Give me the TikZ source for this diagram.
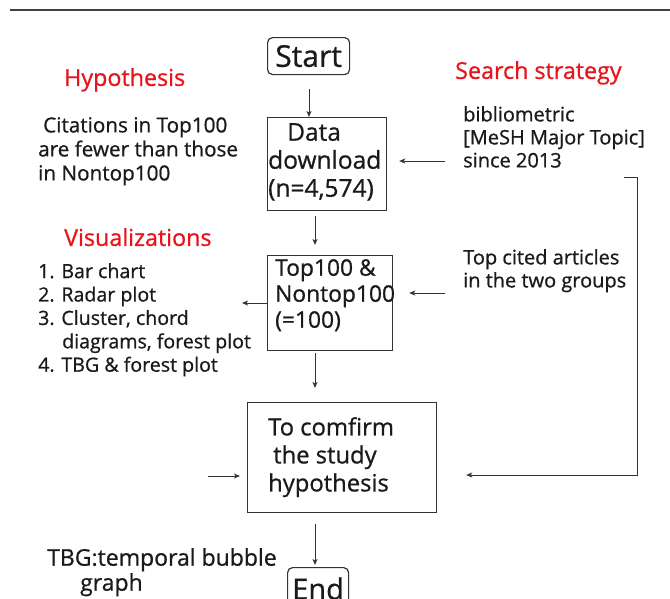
\documentclass[tikz,border=0pt]{standalone}
\usepackage{fontspec}
\setmainfont{Open Sans}[FakeBold=0.8]
\usetikzlibrary{arrows.meta}
\definecolor{lc}{HTML}{333333}
\definecolor{tc}{HTML}{1A1A1A}
\definecolor{hred}{HTML}{E8141C}
\tikzset{
  box/.style={draw=lc, line width=1.2pt, rectangle, inner sep=0pt, anchor=north west},
  rbox/.style={box, rounded corners=5pt, text=tc},
  txt/.style={anchor=north west, inner sep=0pt, align=left, text=tc},
  head/.style={anchor=north west, inner sep=0pt, text=hred, font=\fontsize{23.3}{27}\selectfont},
  arr/.style={draw=lc, line width=1pt, -{Stealth[length=6pt,width=5pt,inset=1.5pt]}},
}
\begin{document}
\begin{tikzpicture}[x=1pt,y=-1pt]
\useasboundingbox (0,0) rectangle (670,598);
% top rule
\coordinate (ruleL) at (10,10);
\coordinate (ruleR) at (670,10);
\draw[draw=black!75, line width=2pt] (ruleL) -- (ruleR);

% boxes
\node[rbox, minimum width=82pt, minimum height=37pt, font=\fontsize{30}{34}\selectfont] (start) at (267,37) {Start};
\node[box, minimum width=119pt, minimum height=93pt] (data) at (267,117) {};
\node[box, minimum width=125pt, minimum height=95pt] (top) at (267,255) {};
\node[box, minimum width=189pt, minimum height=110pt] (conf) at (247,402) {};
\node[rbox, minimum width=61pt, minimum height=42pt, font=\fontsize{29}{33}\selectfont] (end) at (287,567) {End};

% box texts
\node[txt, font=\fontsize{24.5}{28}\selectfont] (datatxt) at (268,123) {\hspace*{19pt}Data\\download\\(n=4,574)};
\node[txt, font=\fontsize{22.8}{26}\selectfont] (toptxt) at (275,259) {Top100 \&\\Nontop100\\(=100)};
\node[txt, font=\fontsize{23.8}{28}\selectfont] (conftxt) at (268,417) {To comfirm\\\hspace*{5pt}the study\\hypothesis};

% side texts
\node[head] (hyp) at (64,68) {Hypothesis};
\node[txt, font=\fontsize{20.7}{24}\selectfont] (cit) at (38,117) {\hspace*{5pt}Citations in Top100\\are fewer than those\\in Nontop100};
\node[head] (ss) at (455,61) {Search strategy};
\node[txt, font=\fontsize{20}{23}\selectfont] (bib) at (463,106) {bibliometric\\{[}MeSH Major Topic{]}\\since 2013};
\node[head] (vis) at (64,228) {Visualizations};
\node[txt, font=\fontsize{19.6}{23.4}\selectfont] (list) at (38,263) {1. Bar chart\\2. Radar plot\\3. Cluster, chord\\\hspace*{24pt}diagrams, forest plot\\4. TBG \& forest plot};
\node[txt, font=\fontsize{20}{23}\selectfont] (tca) at (463,249) {Top cited articles\\in the two groups};
\node[txt, font=\fontsize{23}{25}\selectfont] (tbg) at (47,548) {TBG:temporal bubble\\\hspace*{33pt}graph};

% vertical connectors
\coordinate (xa) at (309,0);
\coordinate (xb) at (315,0);
\draw[arr, shorten <=14pt] (xa |- start.south) -- (xa |- data.north);
\draw[arr, shorten <=5pt, shorten >=10pt] (xb |- data.south) -- (xb |- top.north);
\draw[arr, shorten <=2pt, shorten >=14pt] (xb |- top.south) -- (xb |- conf.north);
\draw[arr, shorten <=11pt, shorten >=2pt] (xb |- conf.south) -- (xb |- end.north);

% horizontal connectors
\coordinate (ya) at (0,161);
\coordinate (yb) at (0,293);
\draw[arr, shorten <=18pt, shorten >=12pt] (bib.west |- ya) -- (data.east |- ya);
\draw[arr, shorten <=18pt, shorten >=16pt] (tca.west |- yb) -- (top.east |- yb);
\coordinate (vistip) at (242,303);
\draw[arr] (top.west |- vistip) -- (vistip);
\coordinate (lin) at (208,476);
\draw[arr, shorten >=7pt] (lin) -- (conf.west |- lin);
\coordinate (bendA) at (624,177);
\coordinate (bendB) at (637,177);
\coordinate (bendC) at (637,475);
\draw[arr, shorten >=29pt] (bendA) -- (bendB) -- (bendC) -- (conf.east |- bendC);
\end{tikzpicture}
\end{document}
